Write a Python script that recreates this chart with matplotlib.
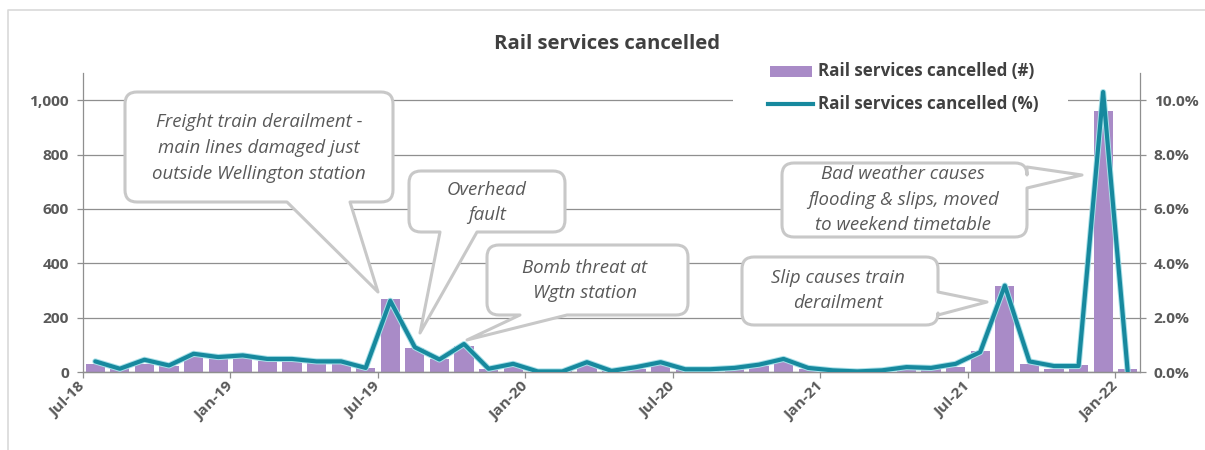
import matplotlib
matplotlib.use('Agg')
import matplotlib.pyplot as plt
from matplotlib.path import Path
from matplotlib.patches import PathPatch, Rectangle
from matplotlib.transforms import Affine2D
from matplotlib.lines import Line2D
from matplotlib.font_manager import FontProperties
import matplotlib.patheffects as pe
import numpy as np
import pandas as pd

# ---------------- data ----------------
months = [d.strftime('%b-%y') for d in pd.date_range('2018-07-01', periods=43, freq='MS')]
cancelled_count = [30, 15, 30, 22, 55, 50, 55, 42, 42, 36, 32, 15,
                   268, 88, 48, 95, 12, 20, 3, 3, 25, 3, 10, 25,
                   6, 6, 12, 22, 40, 12, 5, 2, 5, 15, 10, 20,
                   78, 315, 28, 12, 25, 960, 12]
cancelled_pct = [0.39, 0.12, 0.45, 0.24, 0.67, 0.55, 0.61, 0.48, 0.48, 0.39, 0.39, 0.15,
                 2.62, 0.91, 0.46, 1.03, 0.12, 0.30, 0.02, 0.02, 0.36, 0.04, 0.18, 0.36,
                 0.10, 0.10, 0.15, 0.27, 0.48, 0.15, 0.06, 0.02, 0.06, 0.18, 0.15, 0.30,
                 0.73, 3.18, 0.39, 0.22, 0.22, 10.3, 0.02]
tick_labels = ['Jul-18', 'Jan-19', 'Jul-19', 'Jan-20', 'Jul-20', 'Jan-21', 'Jul-21', 'Jan-22']
count_ticks = [0, 200, 400, 600, 800, 1000]
pct_ticks = [0, 2, 4, 6, 8, 10]
series_names = ['Rail services cancelled (#)', 'Rail services cancelled (%)']
title = 'Rail services cancelled'

# ---------------- style ----------------
W, H = 1205, 450
FAM = ['Open Sans', 'DejaVu Sans']
plt.rcParams['font.family'] = FAM
BAR_C = '#a98bc7'
LINE_C = '#17899e'
GRID_C = '#8f8f8f'
LBL_C = '#595959'
DARK_C = '#404040'

fig = plt.figure(figsize=(W / 100, H / 100), dpi=100)
renderer = fig.canvas.get_renderer()
pix = Affine2D().scale(1, -1).translate(0, H)


def fit_size(s, target_px, weight='normal', style='normal'):
    fp = FontProperties(family=FAM, size=10, weight=weight, style=style)
    w, _, _ = renderer.get_text_width_height_descent(s, fp, ismath=False)
    return 10 * target_px / w


TITLE_FS = fit_size(title, 228, weight='bold')
LEG_FS = fit_size(series_names[0], 217, weight='bold')
CALL_FS = fit_size('Freight train derailment -', 207, style='italic')
TICK_FS = fit_size('1,000', 40, weight='bold')

ax = fig.add_axes([83 / W, 1 - 372 / H, (1140 - 83) / W, (372 - 73) / H])
x = np.arange(len(months))
ax.bar(x, cancelled_count, width=0.78, color=BAR_C, zorder=2)
ax.set_xlim(-0.5, len(months) - 0.5)
ax.set_ylim(0, 1100)
ax.set_yticks(count_ticks)
ax.set_yticklabels([f'{v:,}' for v in count_ticks])
ax.grid(axis='y', color=GRID_C, lw=0.9)
ax.set_axisbelow(True)

tick_pos = [months.index(t) - 0.5 for t in tick_labels]
ax.set_xticks(tick_pos)
ax.set_xticklabels(tick_labels)

ax2 = ax.twinx()
ax2.plot(x, cancelled_pct, color=LINE_C, lw=3.0, solid_joinstyle='round', solid_capstyle='round',
         zorder=3, path_effects=[pe.Stroke(linewidth=4.4, foreground='#a8e0e8'), pe.Normal()])
ax2.set_ylim(0, 11)
ax2.set_yticks(pct_ticks)
ax2.set_yticklabels([f'{v:.1f}%' for v in pct_ticks])

for a in (ax, ax2):
    for s in a.spines.values():
        s.set_color(GRID_C)
        s.set_linewidth(0.9)
    a.spines['top'].set_visible(False)
ax.spines['right'].set_visible(False)
ax2.spines['left'].set_visible(False)

ax.tick_params(axis='y', length=4, width=0.9, color=GRID_C, pad=6, labelsize=TICK_FS, labelcolor=LBL_C)
ax.tick_params(axis='x', length=4, width=0.9, color=GRID_C, pad=5, labelsize=TICK_FS, labelcolor=LBL_C)
ax2.tick_params(axis='y', length=4, width=0.9, color=GRID_C, pad=6, labelsize=TICK_FS, labelcolor=LBL_C)
for lab in ax.get_yticklabels() + ax.get_xticklabels() + ax2.get_yticklabels():
    lab.set_fontweight('bold')
plt.setp(ax.get_xticklabels(), rotation=45, ha='right', va='center', rotation_mode='anchor')

# ---------------- chart border ----------------
fig.add_artist(Line2D([8, 8, W], [H, 10, 10], transform=pix, color='#d9d9d9', lw=1.2, zorder=1))

# ---------------- title ----------------
fig.text(607 / W, 1 - 44 / H, title, ha='center', va='center', fontsize=TITLE_FS,
         fontweight='bold', color=DARK_C)

# ---------------- legend ----------------
fig.add_artist(Rectangle((733, 57), 335, 61, transform=pix, facecolor='white', edgecolor='none', zorder=2))
fig.add_artist(Rectangle((770, 66), 42, 11, transform=pix, facecolor=BAR_C, edgecolor='none', zorder=3))
fig.add_artist(Line2D([768, 813], [104, 104], transform=pix, color=LINE_C, lw=3.0, zorder=3))
fig.text(818 / W, 1 - 71 / H, series_names[0], ha='left', va='center', fontsize=LEG_FS,
         fontweight='bold', color=DARK_C, zorder=4)
fig.text(818 / W, 1 - 104 / H, series_names[1], ha='left', va='center', fontsize=LEG_FS,
         fontweight='bold', color=DARK_C, zorder=4)


# ---------------- callouts ----------------
def callout(box, side, base, tip, lines, ys, cx):
    x0, y0, x1, y1 = box
    r = 12
    V, C = [], []

    def M(p):
        V.append(p); C.append(Path.MOVETO)

    def L(p):
        V.append(p); C.append(Path.LINETO)

    def Q(c, p):
        V.extend([c, p]); C.extend([Path.CURVE3, Path.CURVE3])

    M((x0 + r, y0))
    L((x1 - r, y0)); Q((x1, y0), (x1, y0 + r))
    if side == 'right':
        L((x1, base[0])); L(tip); L((x1, base[1]))
    L((x1, y1 - r)); Q((x1, y1), (x1 - r, y1))
    if side == 'bottom':
        L((base[1], y1)); L(tip); L((base[0], y1))
    L((x0 + r, y1)); Q((x0, y1), (x0, y1 - r))
    L((x0, y0 + r)); Q((x0, y0), (x0 + r, y0))
    V.append((x0 + r, y0)); C.append(Path.CLOSEPOLY)
    fig.add_artist(PathPatch(Path(V, C), transform=pix, facecolor='white', edgecolor='#c8c8c8',
                             lw=2.2, joinstyle='round', zorder=5))
    for s, yy in zip(lines, ys):
        fig.text(cx / W, 1 - yy / H, s, ha='center', va='center', fontsize=CALL_FS,
                 style='italic', color=LBL_C, zorder=6)


callout((125, 92, 393, 202), 'bottom', (287, 350), (378, 292),
        ['Freight train derailment -', 'main lines damaged just', 'outside Wellington station'],
        [122, 148, 174], 259)
callout((409, 171, 565, 232), 'bottom', (440, 477), (420, 333),
        ['Overhead', 'fault'], [190, 215], 487)
callout((487, 245, 688, 315), 'bottom', (520, 567), (467, 340),
        ['Bomb threat at', 'Wgtn station'], [268, 293], 585)
callout((742, 257, 938, 325), 'right', (292, 315), (987, 302),
        ['Slip causes train', 'derailment'], [278, 303], 838)
callout((782, 163, 1027, 237), 'right', (167, 188), (1082, 175),
        ['Bad weather causes', 'flooding & slips, moved', 'to weekend timetable'],
        [174, 200, 225], 903)

fig.savefig('out.png', dpi=100)
